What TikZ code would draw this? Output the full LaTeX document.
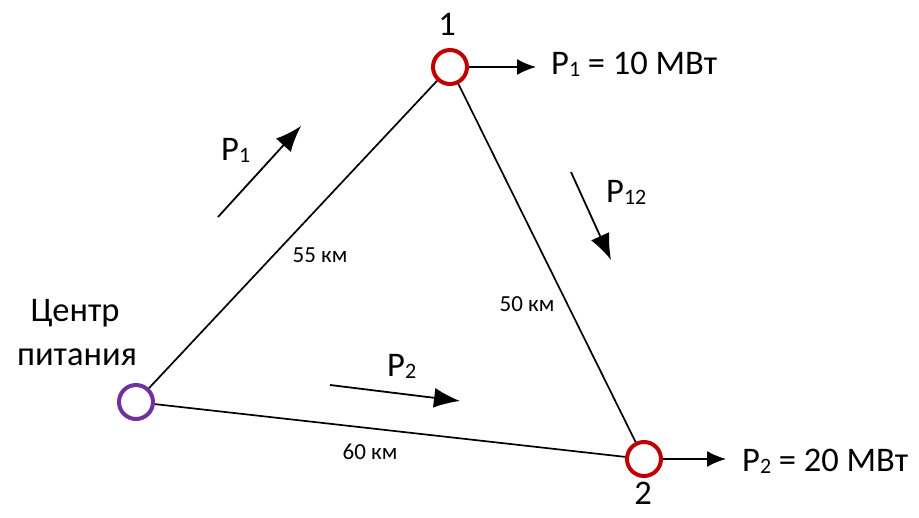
\documentclass[tikz,border=0pt]{standalone}
\usepackage{fontspec}
\setmainfont{Carlito}
\usepackage{xcolor}
\usetikzlibrary{arrows.meta}
\definecolor{busred}{HTML}{C00000}
\definecolor{srcpurple}{HTML}{7030A0}
\newcommand{\psub}[1]{\raisebox{-1.5pt}{\fontsize{22}{22}\selectfont #1}}

\begin{document}
\begin{tikzpicture}[x=1pt,y=-1pt,>=Latex,
  bus/.style={circle,draw=busred,line width=4pt,minimum size=34pt,inner sep=0pt},
  source/.style={bus,draw=srcpurple},
  line/.style={line width=1.7pt},
  load/.style={line width=1.8pt,-{Latex[length=19pt,width=16pt]}},
  flow/.style={line width=1.8pt,-{Latex[length=26pt,width=20pt]}},
  big/.style={font=\fontsize{34.5}{44}\selectfont,inner sep=0pt},
  dist/.style={font=\fontsize{23}{27}\selectfont,inner sep=0pt,anchor=base}]
  \useasboundingbox (0,0) rectangle (919,518);
  % buses
  \node[source] (cp) at (136,402) {};
  \node[bus] (b1) at (450,67) {};
  \node[bus] (b2) at (644,459) {};
  \node[big] (n1) at (447,24) {1};
  \node[big] (n2) at (643,493) {2};
  \node[big,anchor=base] (cpa) at (75,322) {Центр};
  \node[big,anchor=base] (cpb) at (77,366) {питания};
  % lines
  \draw[line] (cp) -- (b1);
  \draw[line] (b1) -- (b2);
  \draw[line] (cp) -- (b2);
  \node[dist] (d1) at (320,263) {55 км};
  \node[dist] (d12) at (527,312) {50 км};
  \node[dist] (d2) at (370,460) {60 км};
  % loads
  \coordinate (l1) at (536,67);
  \coordinate (l2) at (726,459);
  \draw[load] (b1) -- (l1);
  \draw[load] (b2) -- (l2);
  \node[big,anchor=base west] (p1) at (551,75) {P\psub{1} = 10 МВт};
  \node[big,anchor=base west] (p2) at (742,472) {P\psub{2} = 20 МВт};
  % flows
  \coordinate (f1a) at (218,217);
  \coordinate (f1b) at (301,126);
  \coordinate (f12a) at (571,172);
  \coordinate (f12b) at (611,260);
  \coordinate (f2a) at (330,385);
  \coordinate (f2b) at (460,401);
  \draw[flow] (f1a) -- (f1b);
  \draw[flow] (f12a) -- (f12b);
  \draw[flow] (f2a) -- (f2b);
  \node[big,anchor=base west] (q1) at (221,161) {P\psub{1}};
  \node[big,anchor=base west] (q12) at (606,203) {P\psub{12}};
  \node[big,anchor=base west] (q2) at (387,377) {P\psub{2}};
\end{tikzpicture}
\end{document}
